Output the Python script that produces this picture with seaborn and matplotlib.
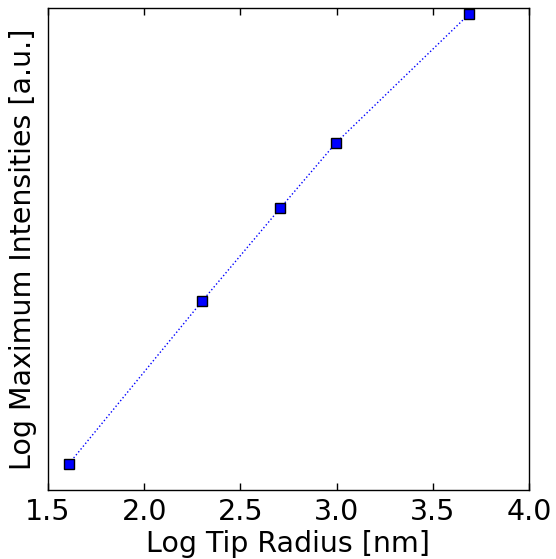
import numpy as np
import pandas as pd
import matplotlib
matplotlib.use("Agg")
import matplotlib.pyplot as plt
import seaborn as sns

# data
log_tip_radius = [1.609, 2.303, 2.708, 2.996, 3.689]
log_max_intensity = [10.00, 11.63, 12.557, 13.207, 14.497]
x_ticks = [1.5, 2.0, 2.5, 3.0, 3.5, 4.0]

sns.set_style("white")
plt.rcParams['font.family'] = ['DejaVu Sans']
plt.rcParams['text.color'] = 'black'
plt.rcParams['axes.labelcolor'] = 'black'
plt.rcParams['xtick.color'] = 'black'
plt.rcParams['ytick.color'] = 'black'

df = pd.DataFrame({"x": log_tip_radius, "y": log_max_intensity})

fig = plt.figure(figsize=(5.56, 5.59), dpi=100)
ax = fig.add_axes([48/556, 1 - 490/559, (529 - 48)/556, (490 - 8)/559])

sns.lineplot(data=df, x="x", y="y", ax=ax, color="blue", linestyle=":",
             linewidth=1, marker="s", markersize=7, markerfacecolor="blue",
             markeredgecolor="black", markeredgewidth=1)

fs = 20.5
ax.set_xlim(1.5, 4.0)
ax.set_ylim(9.737, 14.557)
ax.set_xticks(x_ticks)
ax.set_xticklabels([f"{t:.1f}" for t in x_ticks])
ax.set_yticks([])
ax.tick_params(axis="x", direction="in", top=True, bottom=True, length=5,
               width=1, labelsize=fs, pad=6, color="black", labelcolor="black")
ax.set_xlabel("Log Tip Radius [nm]", fontsize=fs, labelpad=3, color="black")
ax.set_ylabel("Log Maximum Intensities [a.u.]", fontsize=fs, labelpad=8, color="black")
for s in ax.spines.values():
    s.set_color("black")
    s.set_linewidth(1)

fig.savefig("out.png", dpi=100)
